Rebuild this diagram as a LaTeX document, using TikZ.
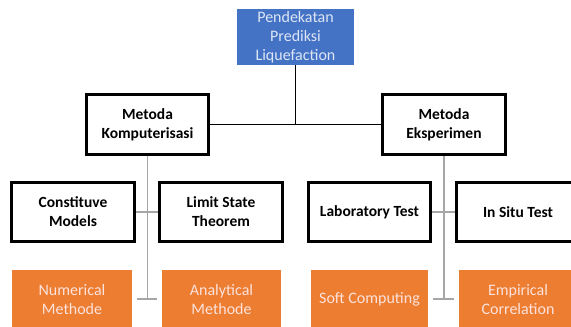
\documentclass[tikz,border=0pt]{standalone}
\usepackage{fontspec}
\setmainfont{Carlito}
\definecolor{topblue}{HTML}{4472C4}
\definecolor{toptext}{HTML}{DDE6F6}
\definecolor{orfill}{HTML}{ED7D31}
\definecolor{ortext}{HTML}{FCE2DC}
\definecolor{connGray}{HTML}{A6A6A6}
\begin{document}
\begin{tikzpicture}[x=1pt,y=-1pt,
  txt/.style={font=\fontsize{16}{19}\selectfont, align=center, inner sep=0pt},
  topbox/.style={txt, fill=topblue, text=toptext, minimum width=117pt, minimum height=56pt},
  blackbox/.style={txt, draw=black, line width=3pt, fill=white, font=\fontsize{15.5}{19}\selectfont\bfseries, minimum height=60pt},
  orbox/.style={txt, fill=orfill, text=ortext, minimum height=58pt},
  blackline/.style={draw=black, line width=1pt},
  grayline/.style={draw=connGray, line width=1.6pt}]
\useasboundingbox (0,0) rectangle (571,327);
\clip (0,0) rectangle (571,327);

\node[topbox] (top) at (295.5,37) {Pendekatan\\Prediksi\\Liquefaction};

\node[blackbox, minimum width=122pt] (komp) at (147.5,124.5) {Metoda\\Komputerisasi};
\node[blackbox, minimum width=123pt] (eksp) at (444,124.5) {Metoda\\Eksperimen};

\node[blackbox, minimum width=123pt, minimum height=59pt] (const) at (73,212) {Constituve\\Models};
\node[blackbox, minimum width=123pt, minimum height=59pt] (limit) at (221,212) {Limit State\\Theorem};
\node[blackbox, minimum width=122pt, minimum height=59pt] (lab) at (369.5,212) {Laboratory Test};
\node[blackbox, minimum width=123pt, minimum height=59pt] (insitu) at (518,212) {In Situ Test};

\node[orbox, minimum width=120pt] (num) at (72,299) {Numerical\\Methode};
\node[orbox, minimum width=119pt] (ana) at (221.5,299) {Analytical\\Methode};
\node[orbox, minimum width=117pt] (soft) at (369.5,299) {Soft Computing};
\node[orbox, minimum width=118pt] (emp) at (518,299) {Empirical\\Correlation};

% top connectors
\coordinate (topjoin) at (top.south |- komp.east);
\draw[blackline] (top.south) -- (topjoin);
\draw[blackline] (komp.east) -- (eksp.west);

% left branch
\coordinate (lbot) at (komp.south |- num.center);
\coordinate (lbarL) at (137,299);
\coordinate (lbarR) at (157,299);
\draw[grayline] (komp.south) -- (lbot);
\draw[grayline] (const.east) -- (limit.west);
\draw[grayline] (lbarL) -- (lbarR);

% right branch
\coordinate (rbot) at (eksp.south |- soft.center);
\coordinate (rbarL) at (433,299);
\coordinate (rbarR) at (454,299);
\draw[grayline] (eksp.south) -- (rbot);
\draw[grayline] (lab.east) -- (insitu.west);
\draw[grayline] (rbarL) -- (rbarR);
\end{tikzpicture}
\end{document}
